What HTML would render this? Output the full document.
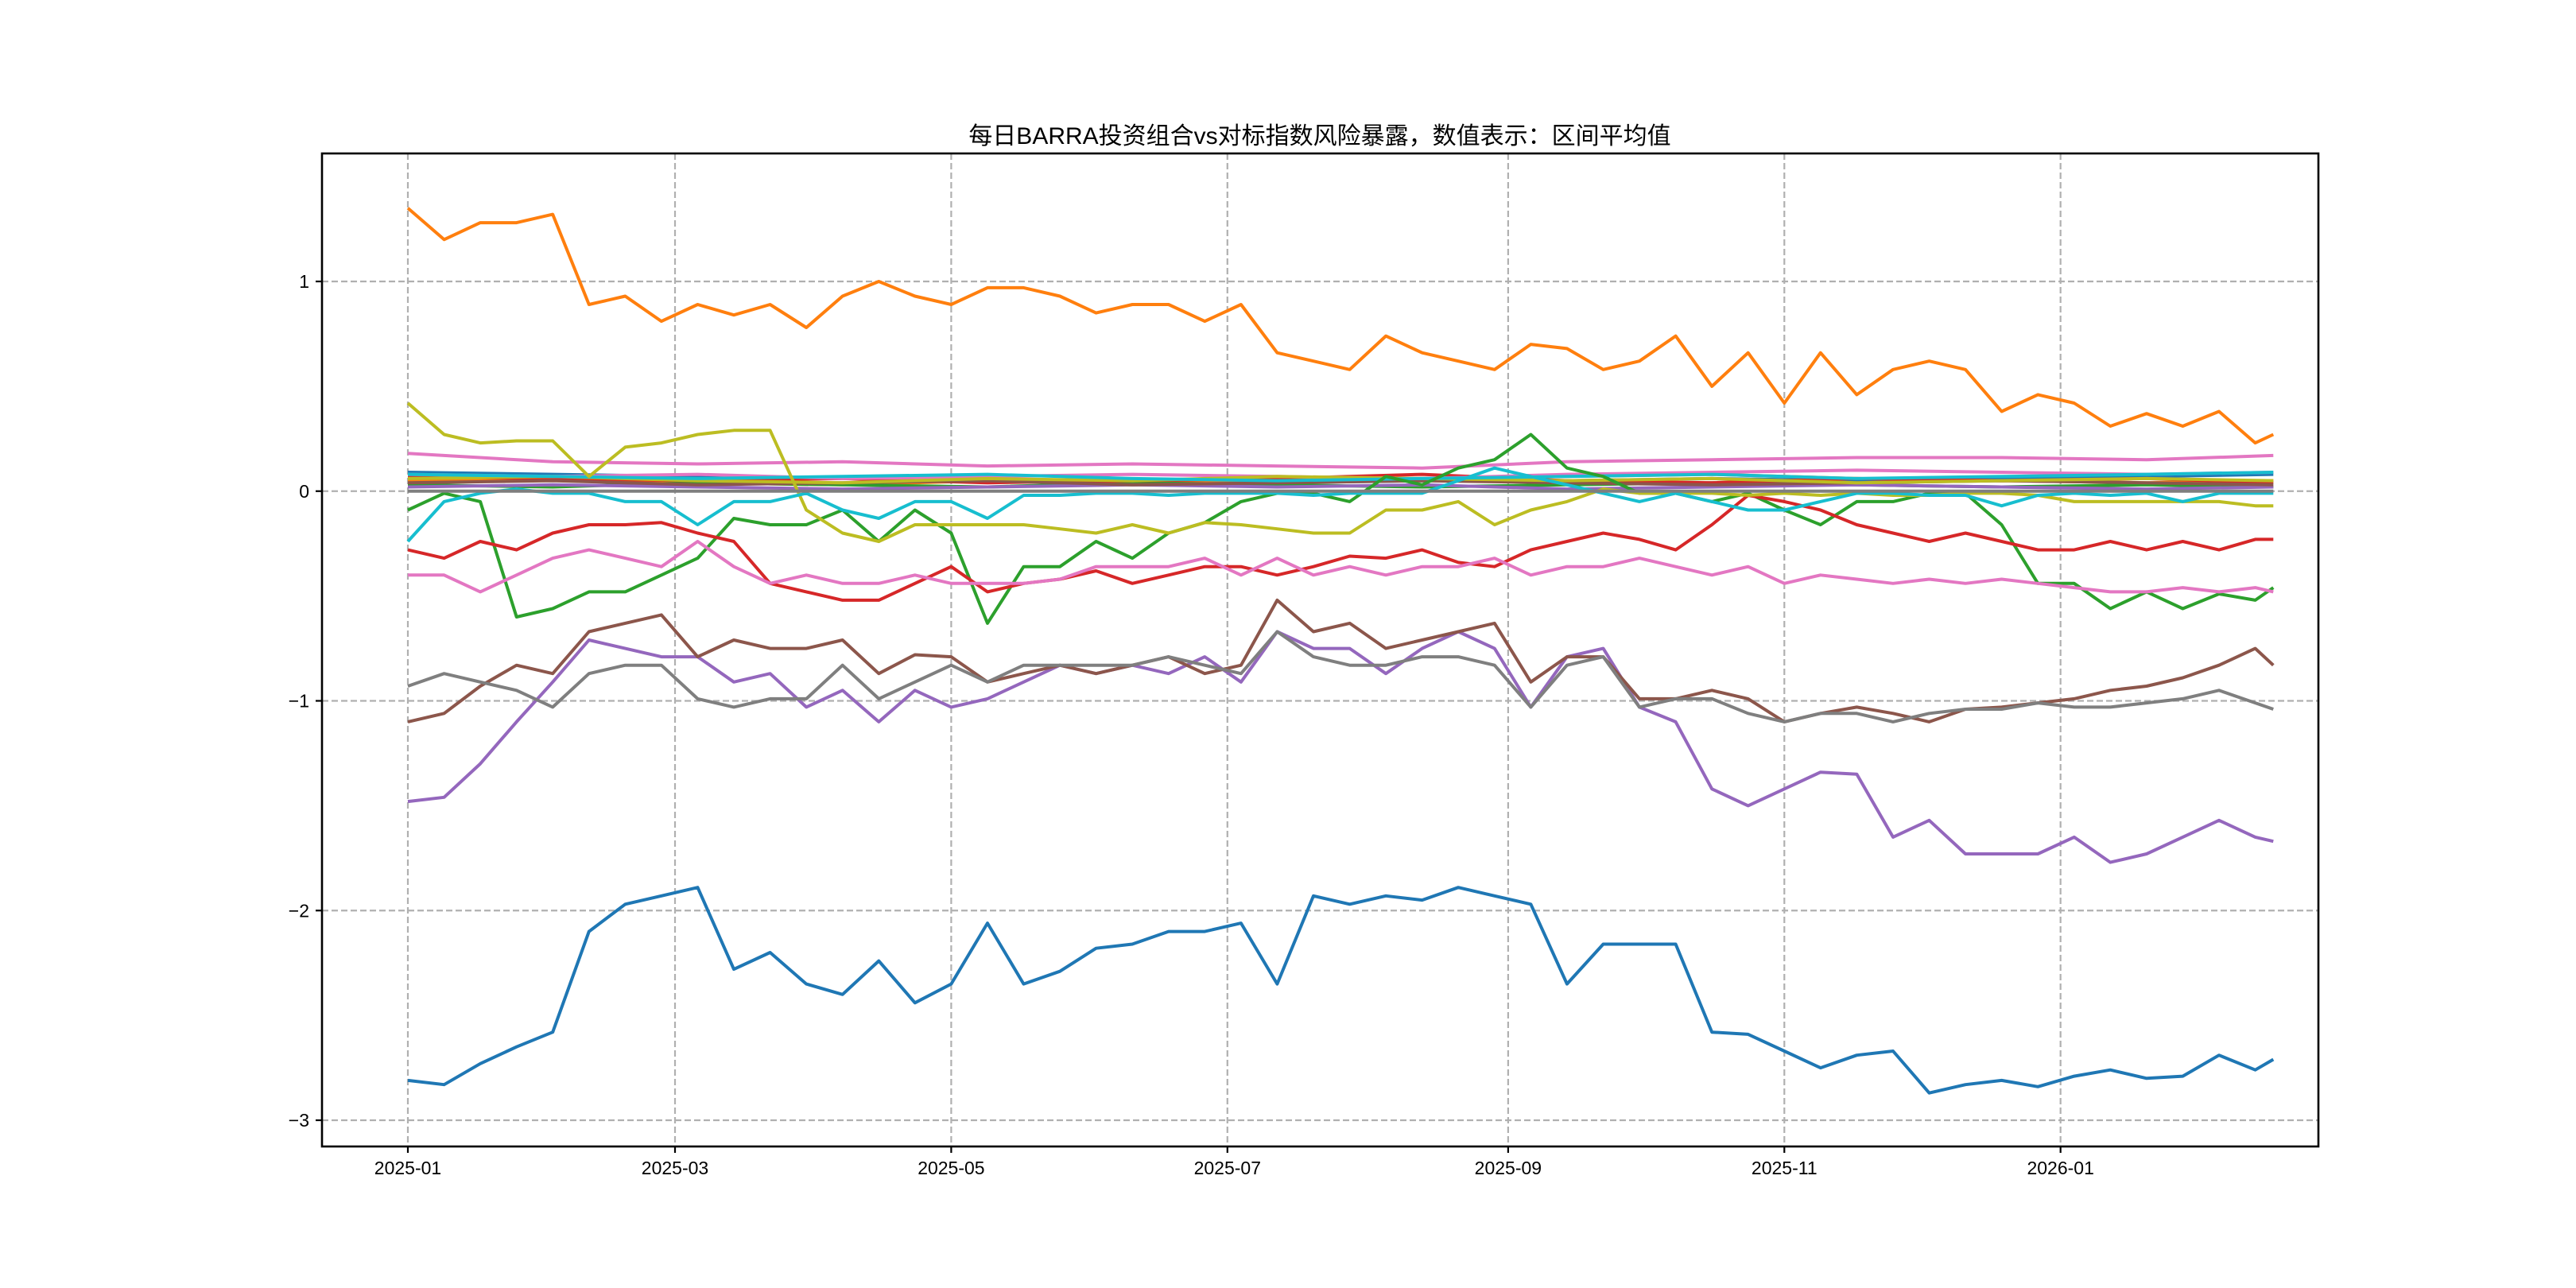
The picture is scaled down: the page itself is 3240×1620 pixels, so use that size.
<!DOCTYPE html>
<html><head><meta charset="utf-8"><style>
html,body{margin:0;padding:0;background:#fff;}
svg{display:block;}
text{font-family:"Liberation Sans","Noto Sans CJK SC",sans-serif;fill:#000;}
</style></head><body>
<svg id="chart" xmlns="http://www.w3.org/2000/svg" width="3240" height="1620" viewBox="0 0 3240 1620">
<rect x="0" y="0" width="3240" height="1620" fill="#fff"/>
<g id="grid"></g>
<g id="series"></g>
<g id="axes"></g>
<text x="1660" y="181" text-anchor="middle" font-size="30">每日BARRA投资组合vs对标指数风险暴露，数值表示：区间平均值</text>
</svg>
<script>
// ---- data ----
const days = [0,8,16,24,32,40,48,56,64,72,80,88,96,104,112,120,128,136,144,152,160,168,176,184,192,200,208,216,224,232,240,248,256,264,272,280,288,296,304,312,320,328,336,344,352,360,368,376,384,392,400,408,412];
const daysCoarse = [0,32,64,96,128,160,192,224,256,288,320,352,384,412];
const xTickDays = [0,59,120,181,243,304,365];
const xTickLabels = ['2025-01','2025-03','2025-05','2025-07','2025-09','2025-11','2026-01'];
const yTicks = [1,0,-1,-2,-3];
const yTickLabels = ['1','0','\u22121','\u22122','\u22123'];

const sBlue = [-2.81,-2.83,-2.73,-2.65,-2.58,-2.10,-1.97,-1.93,-1.89,-2.28,-2.20,-2.35,-2.40,-2.24,-2.44,-2.35,-2.06,-2.35,-2.29,-2.18,-2.16,-2.10,-2.10,-2.06,-2.35,-1.93,-1.97,-1.93,-1.95,-1.89,-1.93,-1.97,-2.35,-2.16,-2.16,-2.16,-2.58,-2.59,-2.67,-2.75,-2.69,-2.67,-2.87,-2.83,-2.81,-2.84,-2.79,-2.76,-2.80,-2.79,-2.69,-2.76,-2.71];
const sOrange = [1.35,1.20,1.28,1.28,1.32,0.89,0.93,0.81,0.89,0.84,0.89,0.78,0.93,1.00,0.93,0.89,0.97,0.97,0.93,0.85,0.89,0.89,0.81,0.89,0.66,0.62,0.58,0.74,0.66,0.62,0.58,0.70,0.68,0.58,0.62,0.74,0.50,0.66,0.42,0.66,0.46,0.58,0.62,0.58,0.38,0.46,0.42,0.31,0.37,0.31,0.38,0.23,0.27];
const sGreen = [-0.09,-0.01,-0.05,-0.60,-0.56,-0.48,-0.48,-0.40,-0.32,-0.13,-0.16,-0.16,-0.09,-0.24,-0.09,-0.20,-0.63,-0.36,-0.36,-0.24,-0.32,-0.20,-0.15,-0.05,-0.01,-0.01,-0.05,0.07,0.03,0.11,0.15,0.27,0.11,0.07,-0.01,-0.01,-0.05,-0.01,-0.09,-0.16,-0.05,-0.05,-0.01,-0.01,-0.16,-0.44,-0.44,-0.56,-0.48,-0.56,-0.49,-0.52,-0.46];
const sRed = [-0.28,-0.32,-0.24,-0.28,-0.20,-0.16,-0.16,-0.15,-0.20,-0.24,-0.44,-0.48,-0.52,-0.52,-0.44,-0.36,-0.48,-0.44,-0.42,-0.38,-0.44,-0.40,-0.36,-0.36,-0.40,-0.36,-0.31,-0.32,-0.28,-0.34,-0.36,-0.28,-0.24,-0.20,-0.23,-0.28,-0.16,-0.02,-0.05,-0.09,-0.16,-0.20,-0.24,-0.20,-0.24,-0.28,-0.28,-0.24,-0.28,-0.24,-0.28,-0.23,-0.23];
const sPurple = [-1.48,-1.46,-1.30,-1.10,-0.91,-0.71,-0.75,-0.79,-0.79,-0.91,-0.87,-1.03,-0.95,-1.10,-0.95,-1.03,-0.99,-0.91,-0.83,-0.87,-0.83,-0.87,-0.79,-0.91,-0.67,-0.75,-0.75,-0.87,-0.75,-0.67,-0.75,-1.03,-0.79,-0.75,-1.03,-1.10,-1.42,-1.50,-1.42,-1.34,-1.35,-1.65,-1.57,-1.73,-1.73,-1.73,-1.65,-1.77,-1.73,-1.65,-1.57,-1.65,-1.67];
const sBrown = [-1.10,-1.06,-0.93,-0.83,-0.87,-0.67,-0.63,-0.59,-0.79,-0.71,-0.75,-0.75,-0.71,-0.87,-0.78,-0.79,-0.91,-0.87,-0.83,-0.87,-0.83,-0.79,-0.87,-0.83,-0.52,-0.67,-0.63,-0.75,-0.71,-0.67,-0.63,-0.91,-0.79,-0.79,-0.99,-0.99,-0.95,-0.99,-1.10,-1.06,-1.03,-1.06,-1.10,-1.04,-1.03,-1.01,-0.99,-0.95,-0.93,-0.89,-0.83,-0.75,-0.83];
const sPink = [-0.40,-0.40,-0.48,-0.40,-0.32,-0.28,-0.32,-0.36,-0.24,-0.36,-0.44,-0.40,-0.44,-0.44,-0.40,-0.44,-0.44,-0.44,-0.42,-0.36,-0.36,-0.36,-0.32,-0.40,-0.32,-0.40,-0.36,-0.40,-0.36,-0.36,-0.32,-0.40,-0.36,-0.36,-0.32,-0.36,-0.40,-0.36,-0.44,-0.40,-0.42,-0.44,-0.42,-0.44,-0.42,-0.44,-0.46,-0.48,-0.48,-0.46,-0.48,-0.46,-0.48];
const sGray = [-0.93,-0.87,-0.91,-0.95,-1.03,-0.87,-0.83,-0.83,-0.99,-1.03,-0.99,-0.99,-0.83,-0.99,-0.91,-0.83,-0.91,-0.83,-0.83,-0.83,-0.83,-0.79,-0.83,-0.87,-0.67,-0.79,-0.83,-0.83,-0.79,-0.79,-0.83,-1.03,-0.83,-0.79,-1.03,-0.99,-0.99,-1.06,-1.10,-1.06,-1.06,-1.10,-1.06,-1.04,-1.04,-1.01,-1.03,-1.03,-1.01,-0.99,-0.95,-1.01,-1.04];
const sOlive = [0.42,0.27,0.23,0.24,0.24,0.07,0.21,0.23,0.27,0.29,0.29,-0.09,-0.20,-0.24,-0.16,-0.16,-0.16,-0.16,-0.18,-0.20,-0.16,-0.20,-0.15,-0.16,-0.18,-0.20,-0.20,-0.09,-0.09,-0.05,-0.16,-0.09,-0.05,0.01,-0.01,-0.01,-0.01,-0.02,-0.01,-0.02,-0.01,-0.02,-0.02,-0.01,-0.01,-0.02,-0.05,-0.05,-0.05,-0.05,-0.05,-0.07,-0.07];
const sCyan = [-0.24,-0.05,-0.01,0.01,-0.01,-0.01,-0.05,-0.05,-0.16,-0.05,-0.05,-0.01,-0.09,-0.13,-0.05,-0.05,-0.13,-0.02,-0.02,-0.01,-0.01,-0.02,-0.01,-0.01,-0.01,-0.02,-0.01,-0.01,-0.01,0.05,0.11,0.07,0.03,-0.01,-0.05,-0.01,-0.05,-0.09,-0.09,-0.05,-0.01,-0.01,-0.02,-0.02,-0.07,-0.02,-0.01,-0.02,-0.01,-0.05,-0.01,-0.01,-0.01];

const mBlue = [0.09,0.08,0.07,0.06,0.05,0.05,0.04,0.05,0.05,0.06,0.05,0.06,0.07,0.08];
const mOrange = [0.05,0.06,0.04,0.03,0.05,0.04,0.05,0.06,0.07,0.08,0.06,0.05,0.04,0.05];
const mGreen = [0.03,0.02,0.04,0.03,0.02,0.04,0.03,0.02,0.03,0.04,0.03,0.02,0.03,0.02];
const mRed = [0.07,0.06,0.05,0.06,0.04,0.05,0.06,0.08,0.05,0.04,0.06,0.05,0.06,0.04];
const mPurple = [0.02,0.03,0.02,0.01,0.02,0.03,0.02,0.03,0.01,0.02,0.03,0.02,0.01,0.02];
const mBrown = [0.04,0.05,0.03,0.04,0.05,0.03,0.04,0.05,0.04,0.03,0.04,0.05,0.04,0.03];
const mPinkUpper = [0.18,0.14,0.13,0.14,0.12,0.13,0.12,0.11,0.14,0.15,0.16,0.16,0.15,0.17];
const mPinkMid = [0.08,0.07,0.08,0.06,0.07,0.08,0.07,0.06,0.08,0.09,0.10,0.09,0.08,0.09];
const mGray = [0.00,0.00,0.00,0.00,0.00,0.00,0.00,0.00,0.00,0.00,0.00,0.00,0.00,0.00];
const mOlive = [0.06,0.07,0.05,0.04,0.06,0.05,0.07,0.06,0.05,0.06,0.04,0.05,0.06,0.05];
const mCyan = [0.08,0.07,0.06,0.07,0.08,0.06,0.05,0.06,0.07,0.08,0.06,0.07,0.08,0.09];

// ---- layout ----
const L=405, R=2916, T=193, B=1442;
const X0=513, PXDAY=5.695, Y0=617.75, PXUNIT=263.75;
const xs = d => X0 + d*PXDAY;
const ys = v => Y0 - v*PXUNIT;
const NS='http://www.w3.org/2000/svg';
function mk(tag, attrs, parent){const e=document.createElementNS(NS,tag);for(const k in attrs)e.setAttribute(k,attrs[k]);parent.appendChild(e);return e;}

const grid=document.getElementById('grid');
xTickDays.forEach((d,i)=>{
  const l=mk('line',{x1:xs(d),x2:xs(d),y1:T,y2:B,stroke:'#b0b0b0','stroke-width':2.2,'stroke-dasharray':'8,4'},grid);
  
  
});
yTicks.forEach((v,i)=>{
  const l=mk('line',{x1:L,x2:R,y1:ys(v),y2:ys(v),stroke:'#b0b0b0','stroke-width':2.2,'stroke-dasharray':'8,4'},grid);
  
  
});

const series=document.getElementById('series');
const defs=[
 ['series-blue-minor',daysCoarse,mBlue,'#1f77b4'],
 ['series-orange-minor',daysCoarse,mOrange,'#ff7f0e'],
 ['series-green-minor',daysCoarse,mGreen,'#2ca02c'],
 ['series-red-minor',daysCoarse,mRed,'#d62728'],
 ['series-purple-minor',daysCoarse,mPurple,'#9467bd'],
 ['series-brown-minor',daysCoarse,mBrown,'#8c564b'],
 ['series-pink-upper',daysCoarse,mPinkUpper,'#e377c2'],
 ['series-pink-mid',daysCoarse,mPinkMid,'#e377c2'],
 ['series-olive-minor',daysCoarse,mOlive,'#bcbd22'],
 ['series-cyan-minor',daysCoarse,mCyan,'#17becf'],
 ['series-blue',days,sBlue,'#1f77b4'],
 ['series-orange',days,sOrange,'#ff7f0e'],
 ['series-green',days,sGreen,'#2ca02c'],
 ['series-red',days,sRed,'#d62728'],
 ['series-purple',days,sPurple,'#9467bd'],
 ['series-brown',days,sBrown,'#8c564b'],
 ['series-pink',days,sPink,'#e377c2'],
 ['series-gray',days,sGray,'#7f7f7f'],
 ['series-olive',days,sOlive,'#bcbd22'],
 ['series-cyan',days,sCyan,'#17becf'],
 ['series-gray-zero',daysCoarse,mGray,'#7f7f7f']
];
defs.forEach(([name,dd,vals,col])=>{
  const n=Math.min(dd.length,vals.length);
  let p='';
  for(let i=0;i<n;i++){p+=(i?'L':'M')+xs(dd[i]).toFixed(1)+' '+ys(vals[i]).toFixed(1);}
  const path=mk('path',{d:p,fill:'none',stroke:col,'stroke-width':4,'stroke-linejoin':'round'},series);
  
  
});

const axes=document.getElementById('axes');
const frame=mk('rect',{x:L,y:T,width:R-L,height:B-T,fill:'none',stroke:'#000','stroke-width':2.6},axes);


xTickDays.forEach((d,i)=>{
  const t=mk('line',{x1:xs(d),x2:xs(d),y1:B,y2:B+8,stroke:'#000','stroke-width':2.2},axes);
  
  
  const lb=mk('text',{x:xs(d),y:1477,'text-anchor':'middle','font-size':23},axes);
  lb.textContent=xTickLabels[i];
  
  
});
yTicks.forEach((v,i)=>{
  const t=mk('line',{x1:L-8,x2:L,y1:ys(v),y2:ys(v),stroke:'#000','stroke-width':2.2},axes);
  
  
  const lb=mk('text',{x:L-16,y:ys(v)+8,'text-anchor':'end','font-size':23},axes);
  lb.textContent=yTickLabels[i];
  
  
});
</script>
</body></html>
